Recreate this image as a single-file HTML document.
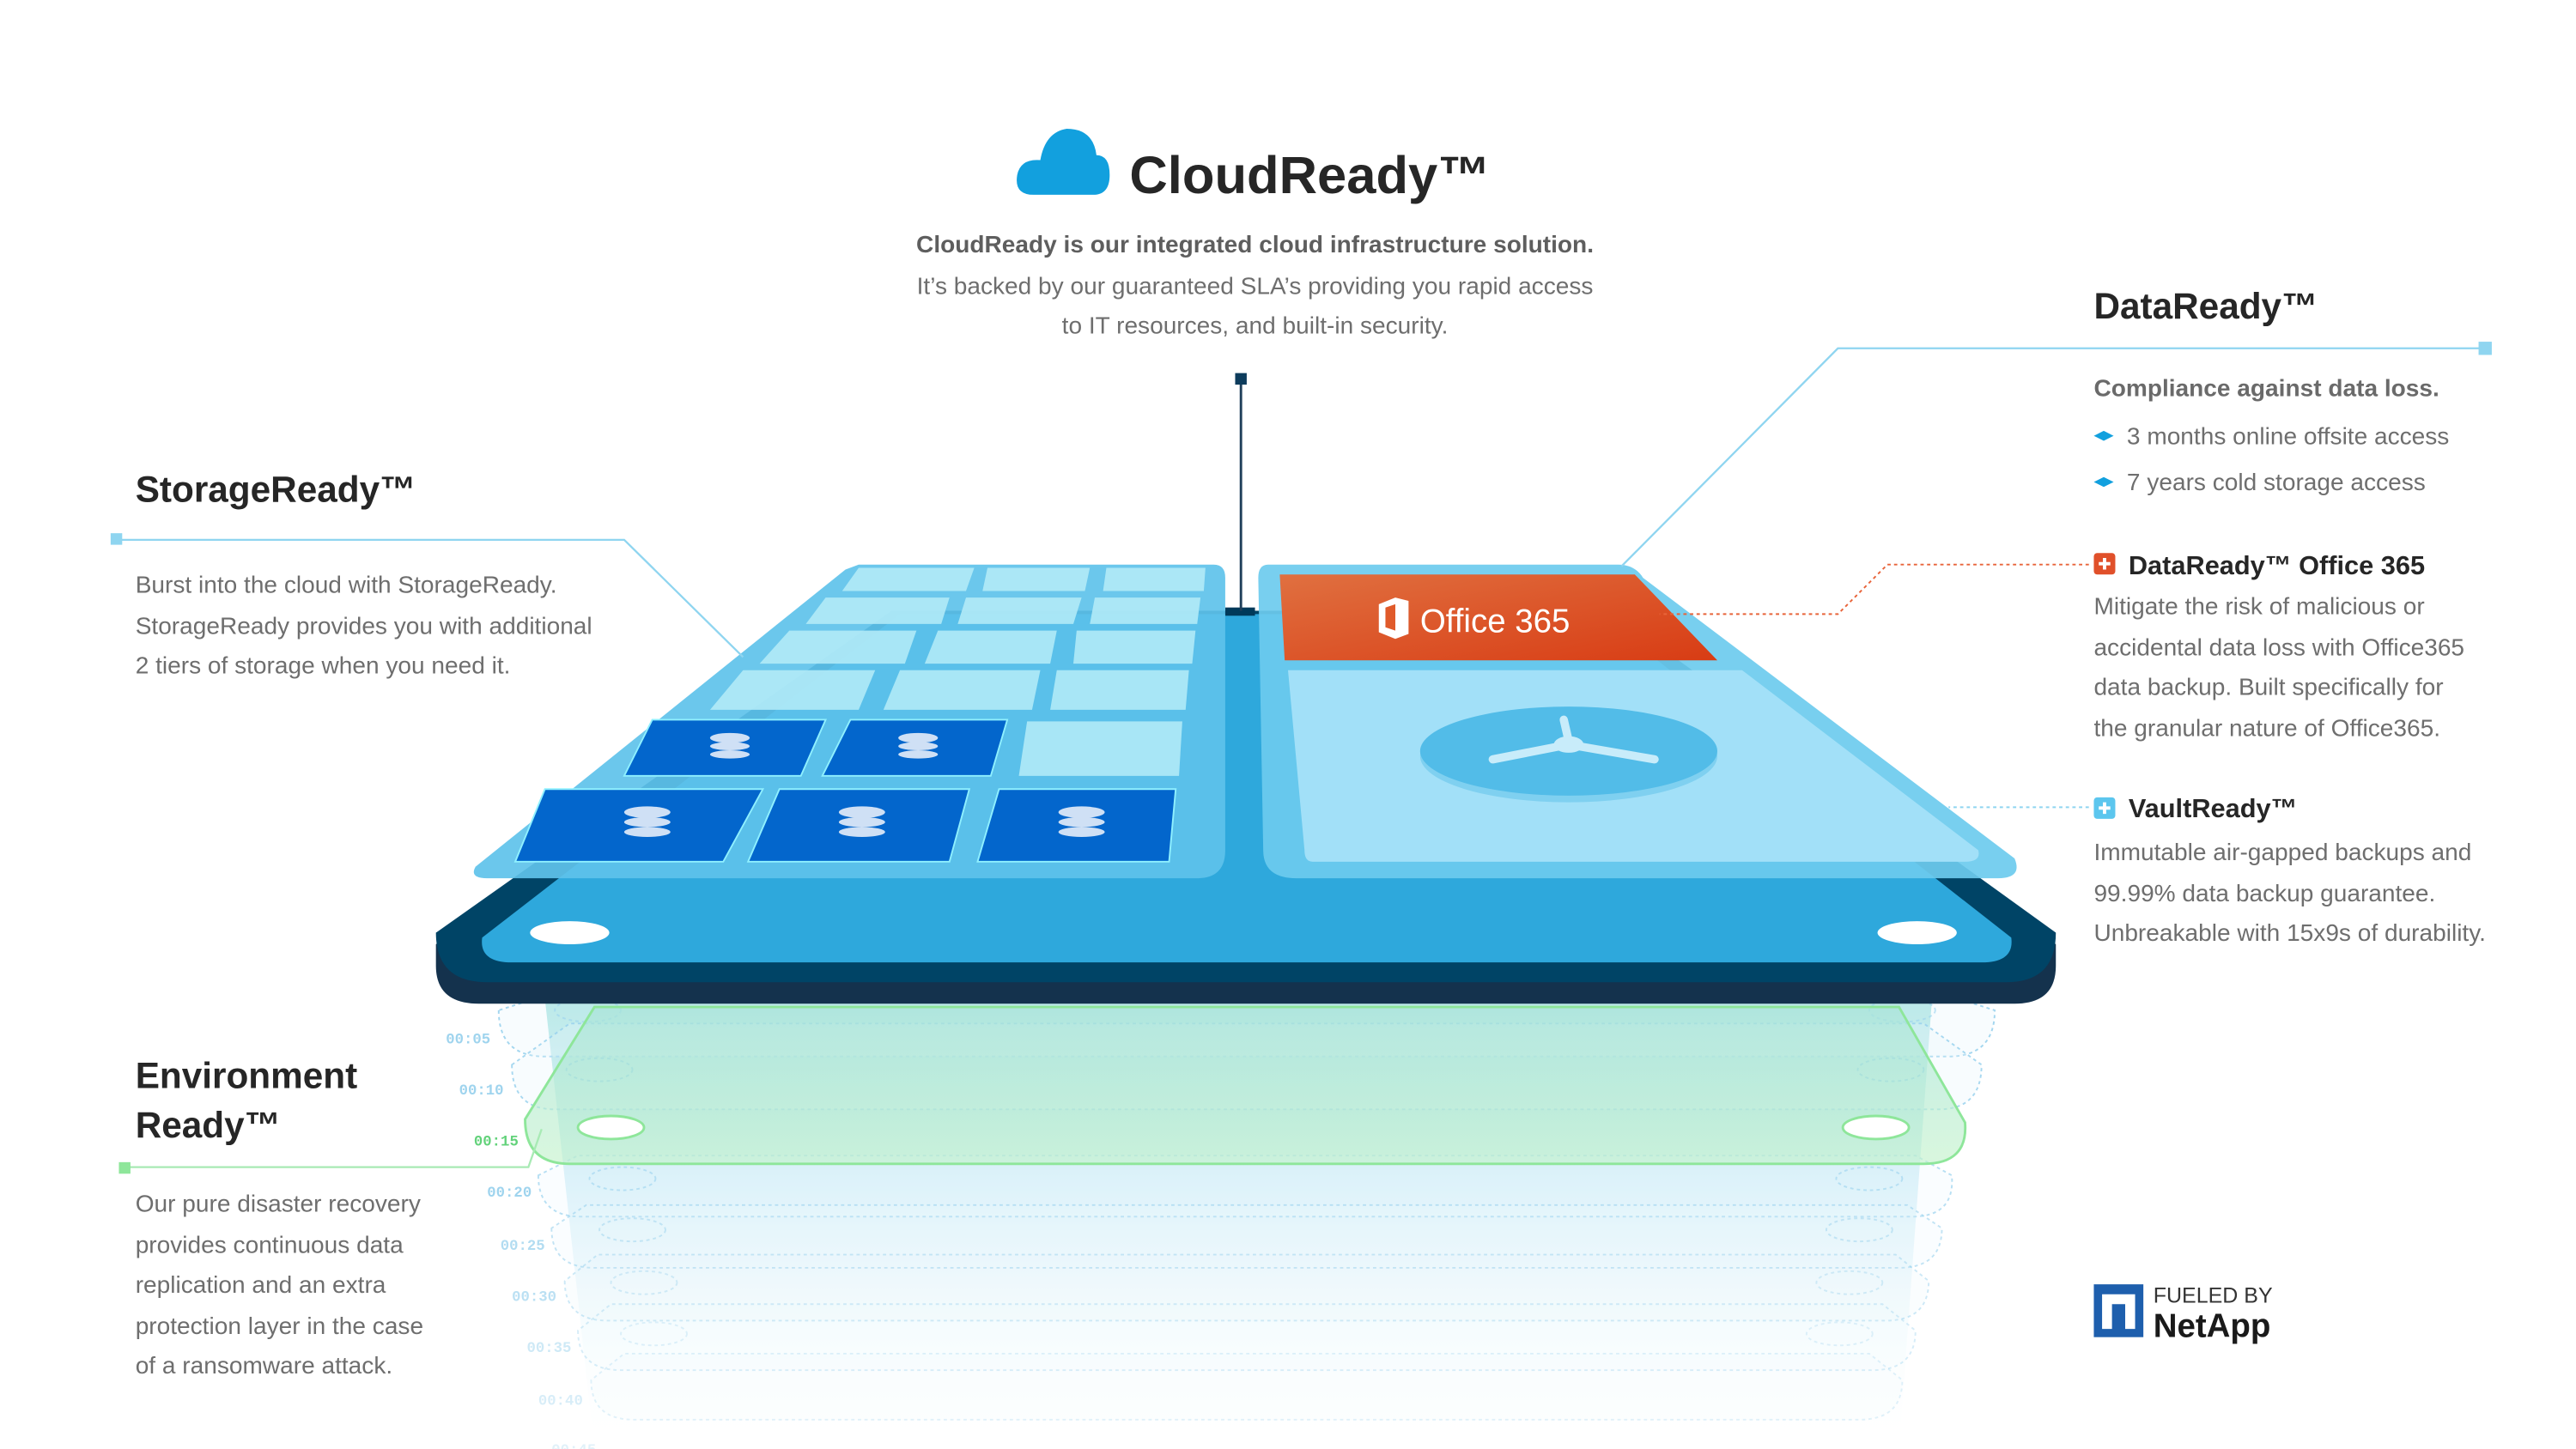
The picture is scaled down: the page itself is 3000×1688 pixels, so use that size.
<!DOCTYPE html>
<html><head><meta charset="utf-8"><style>
html,body{margin:0;padding:0;background:#fff;}
svg{display:block;}
text{font-family:"Liberation Sans",Arial,sans-serif;}
.t{font-weight:bold;fill:#262626;}
.b{fill:#6e6e6e;font-size:14.6px;}
.m{font-family:"Liberation Mono",monospace;font-size:9px;fill:#9fd4ee;font-weight:bold;}
</style></head><body>
<svg width="3000" height="1688" viewBox="0 0 1560 877.76" preserveAspectRatio="none" xmlns="http://www.w3.org/2000/svg">
<defs>
<linearGradient id="og" x1="0" y1="0" x2="1" y2="1"><stop offset="0" stop-color="#e07040"/><stop offset="1" stop-color="#d83c14"/></linearGradient>
<linearGradient id="sh" x1="0" y1="0" x2="0" y2="1"><stop offset="0" stop-color="#9ee0dc"/><stop offset="0.4" stop-color="#d4eef8"/><stop offset="1" stop-color="#ffffff" stop-opacity="0"/></linearGradient>
<linearGradient id="gr" x1="0" y1="0" x2="0" y2="1"><stop offset="0" stop-color="#a8e4d8"/><stop offset="1" stop-color="#c4f2cc"/></linearGradient>
</defs>
<rect width="1560" height="878" fill="#fff"/>

<path d="M330 605 L1170 605 L1150 878 L360 878 Z" fill="url(#sh)" opacity="0.9"/>

<g fill="#e8f5fb" fill-opacity="0.35" stroke="#9ad2ee" stroke-width="1" stroke-dasharray="2,2">
<path d="M302 612 Q302 640 330 640 L1180 640 Q1208 640 1208 612 L1170 600 L340 600 Z" opacity="0.9"/>
<path d="M310 645 Q310 672 336 672 L1174 672 Q1200 672 1200 645 L1165 620 L345 620 Z" opacity="0.85"/>
<path d="M326 712 Q326 737 352 737 L1158 737 Q1184 737 1182 712 L1160 700 L350 700 Z" opacity="0.7"/>
<path d="M334 744 Q334 768 360 768 L1150 768 Q1176 768 1176 744 L1155 730 L355 730 Z" opacity="0.6"/>
<path d="M342 776 Q342 800 368 800 L1142 800 Q1168 800 1168 776 L1148 760 L362 760 Z" opacity="0.5"/>
<path d="M350 806 Q350 830 376 830 L1134 830 Q1160 830 1160 806 L1140 790 L370 790 Z" opacity="0.4"/>
<path d="M358 836 Q358 860 384 860 L1126 860 Q1152 860 1152 836 L1132 820 L378 820 Z" opacity="0.3"/>
</g>
<g fill="none" stroke="#9ad2ee" stroke-dasharray="2,2" stroke-width="1">
<ellipse cx="356" cy="612" rx="20" ry="7" opacity="0.6"/><ellipse cx="1152" cy="612" rx="20" ry="7" opacity="0.6"/>
<ellipse cx="363" cy="648" rx="20" ry="7"/><ellipse cx="1145" cy="648" rx="20" ry="7"/>
<ellipse cx="377" cy="714" rx="20" ry="7" opacity="0.6"/><ellipse cx="1132" cy="714" rx="20" ry="7" opacity="0.6"/>
<ellipse cx="383" cy="745" rx="20" ry="7" opacity="0.5"/><ellipse cx="1126" cy="745" rx="20" ry="7" opacity="0.5"/>
<ellipse cx="390" cy="777" rx="20" ry="7" opacity="0.4"/><ellipse cx="1120" cy="777" rx="20" ry="7" opacity="0.4"/>
<ellipse cx="396" cy="808" rx="20" ry="7" opacity="0.3"/><ellipse cx="1114" cy="808" rx="20" ry="7" opacity="0.3"/>
</g>
<path d="M318 678 Q318 705 345 705 L1165 705 Q1192 705 1190 680 L1150 610 L360 610 Z" fill="url(#gr)" fill-opacity="0.65" stroke="#8ee69a" stroke-width="1.5"/>
<ellipse cx="370" cy="683" rx="20" ry="7" fill="#fff" stroke="#8ee69a" stroke-width="1.5"/>
<ellipse cx="1136" cy="683" rx="20" ry="7" fill="#fff" stroke="#8ee69a" stroke-width="1.5"/>

<text class="m" x="270" y="632">00:05</text>
<text class="m" x="278" y="663">00:10</text>
<text class="m" x="287" y="694" style="fill:#62d27a">00:15</text>
<text class="m" x="295" y="725">00:20</text>
<text class="m" x="303" y="757" opacity="0.8">00:25</text>
<text class="m" x="310" y="788" opacity="0.7">00:30</text>
<text class="m" x="319" y="819" opacity="0.5">00:35</text>
<text class="m" x="326" y="851" opacity="0.4">00:40</text>
<text class="m" x="334" y="881" opacity="0.3">00:45</text>

<path d="M540 370 L975 370 L1245 572 L1245 585 Q1245 608 1220 608 L290 608 Q264 608 264 585 L264 572 Z" fill="#14324d"/>
<path d="M540 370 L975 370 L1245 565 Q1245 595 1215 595 L295 595 Q264 595 264 565 Z" fill="#004466"/>
<path d="M545 372 L968 372 L1218 568 Q1220 583 1200 583 L310 583 Q290 583 292 568 Z" fill="#2ea8dc"/>
<ellipse cx="345" cy="565" rx="24" ry="7" fill="#fff"/>
<ellipse cx="1161" cy="565" rx="24" ry="7" fill="#fff"/>
<rect x="742" y="368" width="18" height="5" fill="#003a5a"/>

<line x1="751.5" y1="230" x2="751.5" y2="370" stroke="#1f3f5a" stroke-width="1.5"/>
<rect x="748" y="226" width="7" height="7" fill="#0d3c5c"/>

<path d="M520 342 L735 342 Q742 342 742 350 L742 515 Q742 532 725 532 L295 532 Q284 532 288 525 L512 345 Z" fill="#5ec2ea" fill-opacity="0.92"/>
<g fill="#b6ecf8" fill-opacity="0.85">
<path d="M520 344 L590 344 L585 358 L510 358 Z"/><path d="M598 344 L660 344 L657 358 L595 358 Z"/><path d="M670 344 L730 344 L729 358 L668 358 Z"/>
<path d="M500 362 L575 362 L570 378 L488 378 Z"/><path d="M585 362 L655 362 L650 378 L580 378 Z"/><path d="M663 362 L727 362 L725 378 L660 378 Z"/>
<path d="M478 382 L555 382 L548 402 L460 402 Z"/><path d="M568 382 L640 382 L636 402 L560 402 Z"/><path d="M652 382 L724 382 L722 402 L650 402 Z"/>
<path d="M450 406 L530 406 L520 430 L430 430 Z"/><path d="M545 406 L630 406 L625 430 L535 430 Z"/><path d="M640 406 L720 406 L718 430 L636 430 Z"/>
<path d="M622 437 L716 437 L714 470 L617 470 Z"/>
</g>
<g fill="#0366cc" stroke="#8ff0ff" stroke-width="1">
<path d="M395 436 L500 436 L485 470 L378 470 Z"/><path d="M515 436 L610 436 L600 470 L498 470 Z"/>
<path d="M330 478 L462 478 L438 522 L312 522 Z"/><path d="M472 478 L587 478 L575 522 L453 522 Z"/><path d="M605 478 L712 478 L708 522 L592 522 Z"/>
</g>
<g fill="#cfe0f5">
<g transform="translate(442,453)"><ellipse cx="0" cy="-6" rx="12" ry="3"/><ellipse cx="0" cy="-1" rx="12" ry="2.5"/><ellipse cx="0" cy="4" rx="12" ry="2.5"/></g>
<g transform="translate(556,453)"><ellipse cx="0" cy="-6" rx="12" ry="3"/><ellipse cx="0" cy="-1" rx="12" ry="2.5"/><ellipse cx="0" cy="4" rx="12" ry="2.5"/></g>
<g transform="translate(392,499)"><ellipse cx="0" cy="-7" rx="14" ry="3.5"/><ellipse cx="0" cy="-1" rx="14" ry="3"/><ellipse cx="0" cy="5" rx="14" ry="3"/></g>
<g transform="translate(522,499)"><ellipse cx="0" cy="-7" rx="14" ry="3.5"/><ellipse cx="0" cy="-1" rx="14" ry="3"/><ellipse cx="0" cy="5" rx="14" ry="3"/></g>
<g transform="translate(655,499)"><ellipse cx="0" cy="-7" rx="14" ry="3.5"/><ellipse cx="0" cy="-1" rx="14" ry="3"/><ellipse cx="0" cy="5" rx="14" ry="3"/></g>
</g>

<path d="M768 342 L980 342 Q990 342 995 350 L1220 520 Q1225 532 1210 532 L785 532 Q765 532 765 515 L762 350 Q762 342 768 342 Z" fill="#6ccbee" fill-opacity="0.92"/>
<path d="M775 348 L990 348 L1040 400 L778 400 Z" fill="url(#og)"/>
<path d="M835 366 L845 362 L853 364 L853 384 L845 387 L835 383 Z" fill="#fff"/><path d="M839 368 L845 366 L845 382 L839 380 Z" fill="#e05a2a"/>
<text x="860" y="383" font-size="20" fill="#fff">Office 365</text>
<path d="M780 406 L1055 406 L1198 515 Q1200 522 1190 522 L795 522 Q790 522 790 515 Z" fill="#a2e0f8"/>
<ellipse cx="950" cy="458" rx="90" ry="28" fill="#7fd0f0"/>
<ellipse cx="950" cy="455" rx="90" ry="27" fill="#52bce8"/>
<g stroke="#c8ecfa" stroke-width="5" stroke-linecap="round"><line x1="950" y1="449" x2="947" y2="436"/><line x1="950" y1="451" x2="904" y2="460"/><line x1="950" y1="451" x2="1002" y2="460"/></g>
<ellipse cx="950" cy="451" rx="9" ry="5" fill="#c8ecfa"/>

<path d="M626 118 Q614 118 616 106 Q618 96 630 97 Q633 80 646 78 Q662 78 664 94 Q672 94 672 106 Q672 118 662 118 Z" fill="#12a0de"/>
<text class="t" x="684" y="117" font-size="32">CloudReady™</text>
<g text-anchor="middle" font-size="14.6">
<text x="760" y="153" font-weight="bold" fill="#5e5e5e">CloudReady is our integrated cloud infrastructure solution.</text>
<text x="760" y="178" fill="#6e6e6e">It’s backed by our guaranteed SLA’s providing you rapid access</text>
<text x="760" y="202" fill="#6e6e6e">to IT resources, and built-in security.</text>
</g>

<text class="t" x="82" y="304" font-size="22">StorageReady™</text>
<polyline points="71,327 378,327 450,398" fill="none" stroke="#8fd5f0" stroke-width="1.2"/>
<rect x="67" y="323" width="7" height="7" fill="#8fd5f0"/>
<text class="b" x="82" y="359">Burst into the cloud with StorageReady.</text>
<text class="b" x="82" y="384">StorageReady provides you with additional</text>
<text class="b" x="82" y="408">2 tiers of storage when you need it.</text>

<text class="t" x="1268" y="193" font-size="22">DataReady™</text>
<polyline points="1505,211 1113,211 982,343" fill="none" stroke="#8fd5f0" stroke-width="1.2"/>
<rect x="1501" y="207" width="8" height="8" fill="#8fd5f0"/>
<text x="1268" y="240" font-size="14.6" font-weight="bold" fill="#6a6a6a">Compliance against data loss.</text>
<path d="M1268 264 L1274 261 L1280 264 L1274 267 Z" fill="#12a0de"/>
<text class="b" x="1288" y="269">3 months online offsite access</text>
<path d="M1268 292 L1274 289 L1280 292 L1274 295 Z" fill="#12a0de"/>
<text class="b" x="1288" y="297">7 years cold storage access</text>

<polyline points="1265,342 1143,342 1113,372 1005,372" fill="none" stroke="#e8643a" stroke-width="1" stroke-dasharray="2,2"/>
<rect x="1268" y="335" width="13" height="13" rx="2" fill="#e0502a"/>
<path d="M1274.5 338 V345 M1271 341.5 H1278" stroke="#fff" stroke-width="2"/>
<text class="t" x="1289" y="348" font-size="16">DataReady™ Office 365</text>
<text class="b" x="1268" y="372">Mitigate the risk of malicious or</text>
<text class="b" x="1268" y="397">accidental data loss with Office365</text>
<text class="b" x="1268" y="421">data backup. Built specifically for</text>
<text class="b" x="1268" y="446">the granular nature of Office365.</text>

<line x1="1265" y1="489" x2="1180" y2="489" stroke="#8fd5f0" stroke-width="1" stroke-dasharray="2,2"/>
<rect x="1268" y="483" width="13" height="13" rx="2" fill="#5cc6ee"/>
<path d="M1274.5 486 V493 M1271 489.5 H1278" stroke="#fff" stroke-width="2"/>
<text class="t" x="1289" y="495" font-size="16">VaultReady™</text>
<text class="b" x="1268" y="521">Immutable air-gapped backups and</text>
<text class="b" x="1268" y="546">99.99% data backup guarantee.</text>
<text class="b" x="1268" y="570">Unbreakable with 15x9s of durability.</text>

<text class="t" x="82" y="659" font-size="22">Environment</text>
<text class="t" x="82" y="689" font-size="22">Ready™</text>
<polyline points="75,707 320,707 328,684" fill="none" stroke="#a8eab4" stroke-width="1.2"/>
<rect x="72" y="704" width="7" height="7" fill="#8ee69a"/>
<text class="b" x="82" y="734">Our pure disaster recovery</text>
<text class="b" x="82" y="759">provides continuous data</text>
<text class="b" x="82" y="783">replication and an extra</text>
<text class="b" x="82" y="808">protection layer in the case</text>
<text class="b" x="82" y="832">of a ransomware attack.</text>

<rect x="1268" y="778" width="30" height="32" fill="#1e5fad"/>
<path d="M1273 805 V784 H1293 V805 H1287 V790 H1279 V805 Z" fill="#fff"/>
<text x="1304" y="789" font-size="13" fill="#333">FUELED BY</text>
<text x="1304" y="810" font-size="20" font-weight="bold" fill="#1a1a1a">NetApp</text>
</svg>
</body></html>
